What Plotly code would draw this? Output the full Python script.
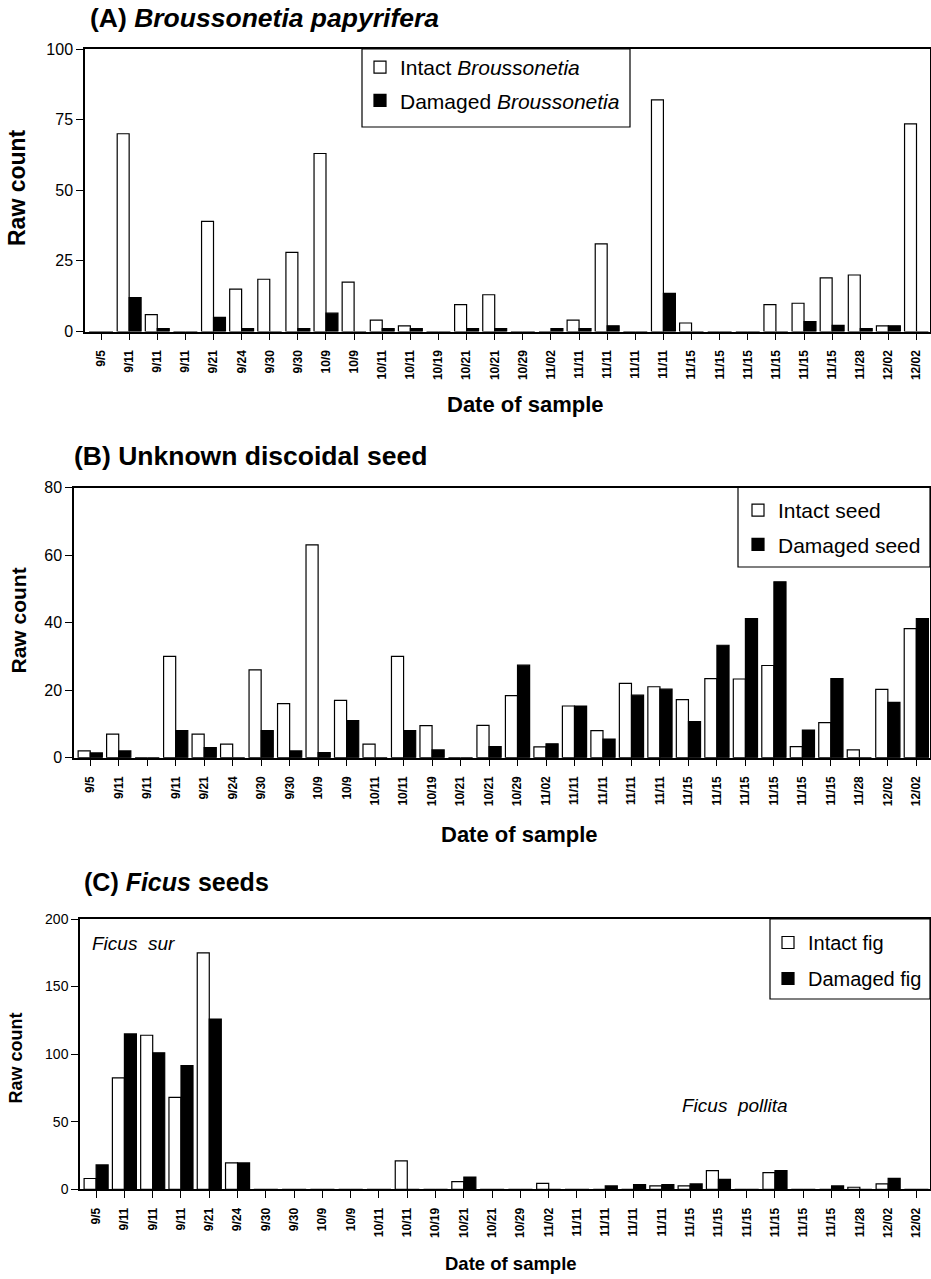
import plotly.graph_objects as go

# ---------------- data ----------------
dates = ["9/5", "9/11", "9/11", "9/11", "9/21", "9/24", "9/30", "9/30", "10/9", "10/9",
         "10/11", "10/11", "10/19", "10/21", "10/21", "10/29", "11/02", "11/11", "11/11", "11/11",
         "11/11", "11/15", "11/15", "11/15", "11/15", "11/15", "11/15", "11/28", "12/02", "12/02"]

a_intact = [0, 70, 6, 0, 39, 15, 18.5, 28, 63, 17.5, 4, 2, 0, 9.5, 13, 0, 0, 4, 31, 0,
            82, 3, 0, 0, 9.5, 10, 19, 20, 2, 73.5]
a_damaged = [0, 12, 1, 0, 5, 1, 0, 1, 6.5, 0, 1, 1, 0, 1, 1, 0, 1, 1, 2, 0,
             13.5, 0, 0, 0, 0, 3.5, 2.2, 1, 2, 0]

b_intact = [2, 7, 0, 30, 7, 4, 26, 16, 63, 17, 4, 30, 9.5, 0, 9.6, 18.4, 3.2, 15.3, 8, 22,
            21, 17.2, 23.4, 23.3, 27.3, 3.3, 10.4, 2.3, 20.2, 38.2]
b_damaged = [1.4, 2, 0, 8, 3, 0, 8, 2, 1.5, 11, 0, 8, 2.3, 0, 3.3, 27.4, 4.1, 15.3, 5.5, 18.5,
             20.3, 10.7, 33.3, 41.2, 52.1, 8.2, 23.4, 0, 16.4, 41.2]

c_intact = [8, 82.5, 114, 68, 175, 19.5, 0, 0, 0, 0, 0, 21, 0, 5.7, 0, 0, 4.4, 0, 0, 0,
            2.5, 2.5, 13.8, 0, 12.3, 0, 0, 1.5, 4, 0]
c_damaged = [18, 115, 101, 91.6, 126, 19.5, 0, 0, 0, 0, 0, 0, 0, 9.1, 0, 0, 0, 0, 2.5, 3.5,
             3.5, 4, 7.4, 0, 13.8, 0, 2.5, 0, 8.1, 0]

a_ticks = [0, 25, 50, 75, 100]
b_ticks = [0, 20, 40, 60, 80]
c_ticks = [0, 50, 100, 150, 200]

# ---------------- layout helpers ----------------
W, H = 931, 1279
FONT = "Liberation Sans, Arial, Helvetica, sans-serif"


def px(x):
    return x / W


def py(y):
    return 1 - y / H


x_pos = list(range(len(dates)))

fig = go.Figure()

panels = [
    # (suffix, intact, damaged, ticks, ymax, left, top, bottom, legend, names, ytickfont)
    ("", a_intact, a_damaged, a_ticks, 100, 85, 49, 331.5, "legend",
     ("Intact <i>Broussonetia</i>", "Damaged <i>Broussonetia</i>"), 16),
    ("2", b_intact, b_damaged, b_ticks, 80, 74, 487.5, 757.7, "legend2",
     ("Intact seed", "Damaged seed"), 16),
    ("3", c_intact, c_damaged, c_ticks, 200, 80, 919, 1189.3, "legend3",
     ("Intact fig", "Damaged fig"), 14),
]

layout = {}
for i, (sfx, intact, damaged, ticks, ymax, left, top, bottom, leg, names, ytf) in enumerate(panels):
    xa = "x" + sfx
    ya = "y" + sfx
    fig.add_trace(go.Bar(
        x=x_pos, y=intact, name=names[0], xaxis=xa, yaxis=ya,
        marker=dict(color="white", line=dict(color="black", width=1.2)),
        offsetgroup="intact", legendgroup=f"i{i}", legend=leg, hoverinfo="y"))
    fig.add_trace(go.Bar(
        x=x_pos, y=damaged, name=names[1], xaxis=xa, yaxis=ya,
        marker=dict(color="black", line=dict(color="black", width=1.2)),
        offsetgroup="damaged", legendgroup=f"d{i}", legend=leg, hoverinfo="y"))
    layout["xaxis" + sfx] = dict(
        domain=[px(left), px(930)], anchor=ya, range=[-0.57, 29.48],
        tickmode="array", tickvals=x_pos, ticktext=dates, tickangle=-90,
        ticks="outside", ticklen=7, tickwidth=1.2, tickcolor="black",
        ticklabelstandoff=5,
        tickfont=dict(family=FONT, size=12, color="black", weight="bold"),
        showline=True, linecolor="black", linewidth=1.5, mirror=True,
        showgrid=False, zeroline=False, fixedrange=True)
    layout["yaxis" + sfx] = dict(
        domain=[py(bottom), py(top)], anchor=xa, range=[0, ymax],
        tickmode="array", tickvals=ticks,
        ticks="outside", ticklen=7, tickwidth=1.2, tickcolor="black",
        tickfont=dict(family=FONT, size=ytf, color="black"),
        showline=True, linecolor="black", linewidth=1.5, mirror=True,
        showgrid=False, zeroline=False, fixedrange=True)

# legend boxes: (box x0, y0, x1, y1, legend x, legend y, font size, row gap)
legend_boxes = [(362, 49, 630, 127, 360, 47, 21, 3),
                (738, 487.5, 930, 567, 738, 490, 21, 4),
                (770, 919, 930, 999, 768, 923, 20, 7)]
shapes = []
for k, (x0, y0, x1, y1, lx, ly, fs, gap) in enumerate(legend_boxes):
    shapes.append(dict(type="rect", xref="paper", yref="paper",
                       x0=px(x0), x1=px(x1), y0=py(y1), y1=py(y0),
                       line=dict(color="black", width=1.2), fillcolor="white", layer="below"))
    key = "legend" if k == 0 else f"legend{k + 1}"
    layout[key] = dict(x=px(lx), y=py(ly), xanchor="left", yanchor="top",
                       xref="paper", yref="paper",
                       bgcolor="rgba(0,0,0,0)", borderwidth=0,
                       font=dict(family=FONT, size=fs, color="black"),
                       tracegroupgap=gap, traceorder="grouped")

annotations = []


def ann(text, x, y, size, bold=False, italic=False, angle=0, xanchor="center"):
    t = text
    if italic:
        t = f"<i>{t}</i>"
    if bold:
        t = f"<b>{t}</b>"
    annotations.append(dict(text=t, x=px(x), y=py(y), xref="paper", yref="paper",
                            xanchor=xanchor, yanchor="middle", showarrow=False,
                            textangle=angle,
                            font=dict(family=FONT, size=size, color="black")))


# panel titles
ann("(A) <i>Broussonetia papyrifera</i>", 88, 18, 26.5, bold=True, xanchor="left")
ann("(B) Unknown discoidal seed", 72, 456, 26.5, bold=True, xanchor="left")
ann("(C) <i>Ficus</i> seeds", 82, 882, 25, bold=True, xanchor="left")

# axis titles
ann("Raw count", 17, 188, 23, bold=True, angle=-90)
ann("Raw count", 17.5, 621, 21, bold=True, angle=-90)
ann("Raw count", 15.5, 1058, 18, bold=True, angle=-90)
ann("Date of sample", 525, 404, 22, bold=True)
ann("Date of sample", 519, 834, 22, bold=True)
ann("Date of sample", 511.5, 1263, 18.5, bold=True)

# species labels
ann("Ficus  sur", 90, 943, 19, italic=True, xanchor="left")
ann("Ficus  pollita", 680, 1105, 19, italic=True, xanchor="left")

fig.update_layout(
    width=W, height=H,
    margin=dict(l=0, r=0, t=0, b=0, autoexpand=False),
    paper_bgcolor="white", plot_bgcolor="white",
    barmode="group", bargap=0.15, bargroupgap=0,
    showlegend=True,
    font=dict(family=FONT, color="black"),
    shapes=shapes, annotations=annotations,
    **layout)

fig.write_html("out.html")
